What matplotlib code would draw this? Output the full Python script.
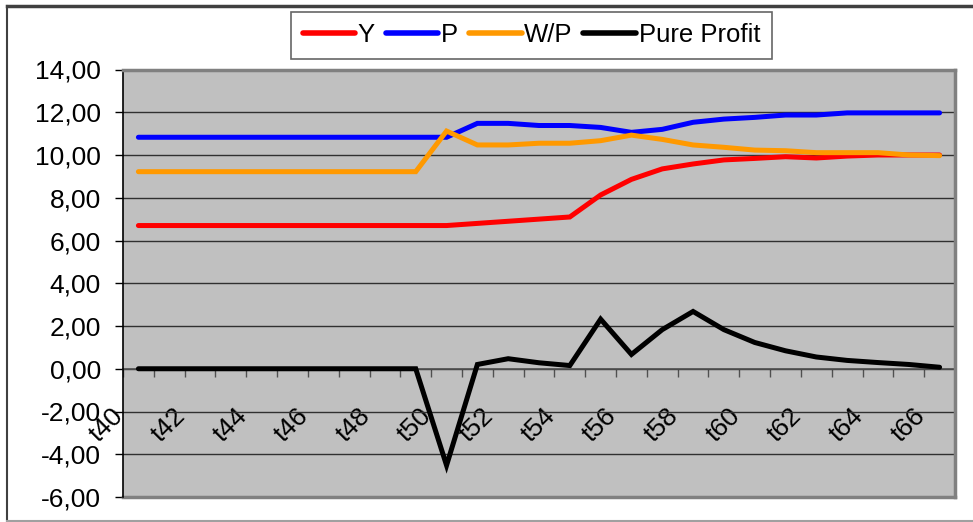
import matplotlib
matplotlib.use("Agg")
import matplotlib.pyplot as plt
from matplotlib.lines import Line2D
from matplotlib.ticker import FixedLocator, FuncFormatter
from matplotlib.transforms import ScaledTranslation

plt.rcParams['font.family'] = ['Liberation Sans', 'DejaVu Sans']

periods = ['t40', 't41', 't42', 't43', 't44', 't45', 't46', 't47', 't48', 't49',
           't50', 't51', 't52', 't53', 't54', 't55', 't56', 't57', 't58', 't59',
           't60', 't61', 't62', 't63', 't64', 't65', 't66']

y_output = [6.70, 6.70, 6.70, 6.70, 6.70, 6.70, 6.70, 6.70, 6.70, 6.70,
            6.70, 6.80, 6.90, 7.00, 7.10, 8.13, 8.86, 9.35, 9.58, 9.77,
            9.84, 9.92, 9.86, 9.95, 10.00, 10.00, 10.00]
price = [10.83, 10.83, 10.83, 10.83, 10.83, 10.83, 10.83, 10.83, 10.83, 10.83,
         10.83, 11.48, 11.48, 11.38, 11.38, 11.29, 11.06, 11.20, 11.53, 11.68,
         11.76, 11.87, 11.87, 11.97, 11.97, 11.97, 11.97]
real_wage = [9.22, 9.22, 9.22, 9.22, 9.22, 9.22, 9.22, 9.22, 9.22, 9.22,
             11.12, 10.47, 10.47, 10.55, 10.55, 10.67, 10.93, 10.73, 10.47, 10.36,
             10.23, 10.20, 10.11, 10.11, 10.11, 10.00, 9.97]
pure_profit = [0, 0, 0, 0, 0, 0, 0, 0, 0, 0,
               -4.52, 0.20, 0.47, 0.28, 0.15, 2.32, 0.67, 1.83, 2.68, 1.83,
               1.23, 0.84, 0.55, 0.39, 0.29, 0.20, 0.07]

series = [('Y', y_output, '#ff0000'),
          ('P', price, '#0000ff'),
          ('W/P', real_wage, '#ff9900'),
          ('Pure Profit', pure_profit, '#000000')]

fig = plt.figure(figsize=(9.73, 5.22), dpi=100)
ax = fig.add_axes([123 / 973, 1 - 497 / 522, 832 / 973, 427.5 / 522])
ax.set_facecolor('#c0c0c0')

x = list(range(len(periods)))
for name, vals, col in series:
    ax.plot(x, vals, color=col, lw=3.6, solid_capstyle='round',
            solid_joinstyle='miter', label=name, zorder=3)

ax.set_xlim(-0.5, len(periods) - 0.5)
ax.set_ylim(-6, 14)
ax.set_yticks(range(-6, 15, 2))
ax.yaxis.set_major_formatter(FuncFormatter(lambda v, p: f'{v:.2f}'.replace('.', ',')))
ax.grid(axis='y', color='#303030', lw=1, zorder=1)
ax.tick_params(axis='y', length=6, width=1, pad=10, labelsize=19, direction='out')

# category axis sits on zero, ticks between categories
ax.spines['bottom'].set_position(('data', 0))
ax.spines['bottom'].set_color('#505050')
ax.spines['bottom'].set_linewidth(1.2)
ax.spines['bottom'].set_zorder(2)
ax.set_xticks(x[::2])
ax.set_xticklabels(periods[::2], rotation=45, ha='right', va='top')
ax.xaxis.set_minor_locator(FixedLocator([i - 0.5 for i in range(len(periods) + 1)]))
ax.tick_params(axis='x', which='major', length=0, pad=25, labelsize=19)
ax.tick_params(axis='x', which='minor', length=6, width=1, color='#505050', direction='out')
offset = ScaledTranslation(-0.10, 0, fig.dpi_scale_trans)
for lab in ax.get_xticklabels():
    lab.set_transform(lab.get_transform() + offset)

for side in ['top', 'right']:
    ax.spines[side].set_color('#808080')
    ax.spines[side].set_linewidth(2.5)
ax.spines['left'].set_color('black')
ax.spines['left'].set_linewidth(1.2)

# bottom edge of the grey plot area
ax.add_line(Line2D([0, 1], [0, 0], transform=ax.transAxes, color='#808080',
                   lw=2.5, clip_on=False, zorder=2))

leg = ax.legend(loc='upper left', bbox_to_anchor=(291 / 973, 1 - 11.7 / 522),
                bbox_transform=fig.transFigure, ncol=4, fontsize=18.5,
                frameon=True, fancybox=False, edgecolor='#404040',
                borderaxespad=0, borderpad=0.45, handlelength=2.05,
                handletextpad=0.1, columnspacing=0.42)
leg.get_frame().set_linewidth(1.2)
for h in leg.get_lines():
    h.set_linewidth(4)

# outer chart frame
fig.add_artist(Line2D([7 / 973, 1.0], [1 - 5.5 / 522] * 2, color='#404040', lw=2.5))
fig.add_artist(Line2D([7 / 973] * 2, [1 - 5.5 / 522, 1 - 521 / 522], color='#404040', lw=1.5))
fig.add_artist(Line2D([7 / 973, 1.0], [1 - 521 / 522] * 2, color='#a0a0a0', lw=1.5))

fig.savefig('out.png', dpi=100)
